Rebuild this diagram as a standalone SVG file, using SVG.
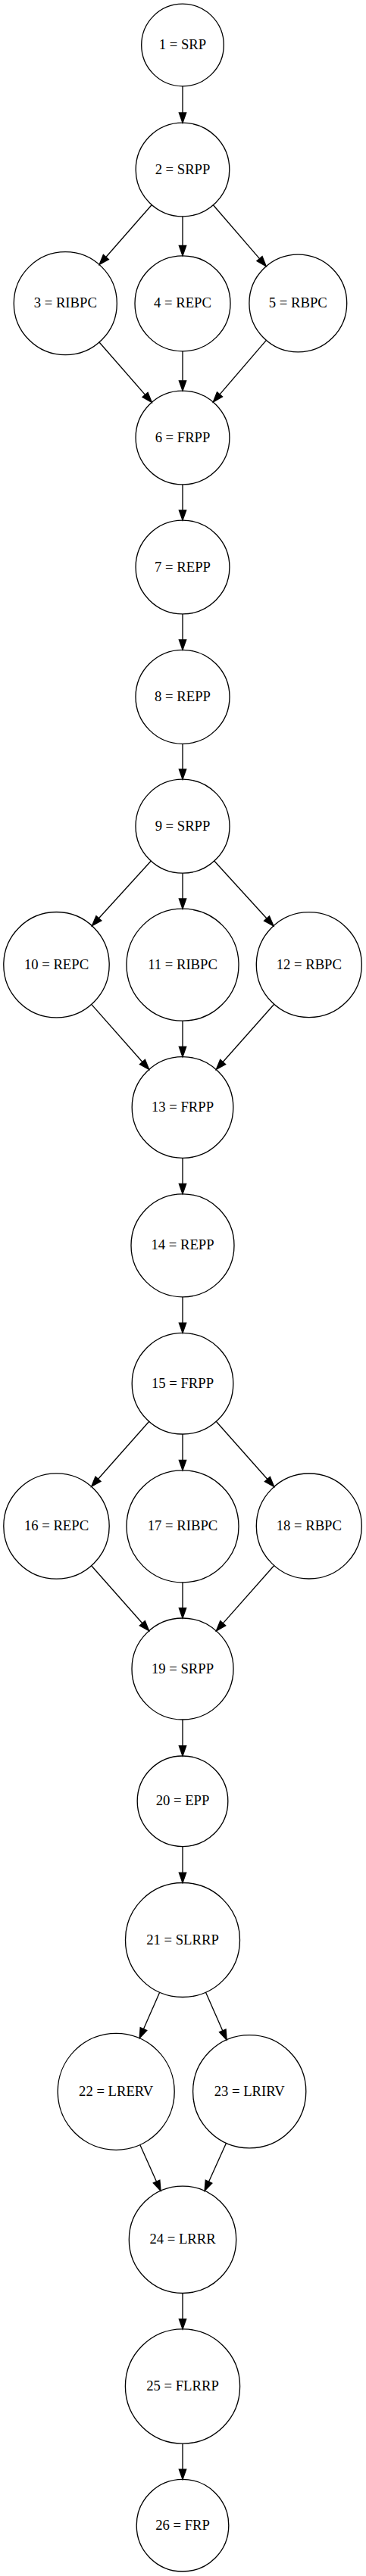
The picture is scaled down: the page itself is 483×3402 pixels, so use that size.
<svg xmlns="http://www.w3.org/2000/svg" width="483" height="3402" viewBox="0 0 483 3402">
<style>
.n circle{fill:none;stroke:#000;stroke-width:1.33}
.n text{font-family:"Liberation Serif","Times New Roman",serif;font-size:18.67px;text-anchor:middle;fill:#000}
#edges line{stroke:#000;stroke-width:1.33}
#edges polygon{fill:#000;stroke:#000;stroke-width:1.33}
</style>
<rect width="483" height="3402" fill="#fff"/>
<g id="edges">
<line x1="241" y1="113.8" x2="241" y2="148.9"/><polygon points="241,162.2 236.33,148.9 245.67,148.9"/>
<line x1="200.29" y1="270.5" x2="139.87" y2="339.51"/><polygon points="131.09,349.54 143.38,342.59 136.36,336.43"/>
<line x1="241" y1="285.8" x2="241" y2="324.5"/><polygon points="241,337.8 236.33,324.5 245.67,324.5"/>
<line x1="281.37" y1="270.79" x2="342.52" y2="341.65"/><polygon points="351.23,351.74 338.98,344.7 346.06,338.6"/>
<line x1="131.01" y1="451.94" x2="191.54" y2="521.32"/><polygon points="200.3,531.36 188.02,524.39 195.06,518.25"/>
<line x1="241" y1="463.8" x2="241" y2="502.8"/><polygon points="241,516.1 236.33,502.8 245.67,502.8"/>
<line x1="351.36" y1="449.37" x2="289.99" y2="520.9"/><polygon points="281.31,531.02 293.53,523.94 286.45,517.86"/>
<line x1="241" y1="639.9" x2="241" y2="673.8"/><polygon points="241,687.1 236.33,673.8 245.67,673.8"/>
<line x1="241" y1="810.9" x2="241" y2="845"/><polygon points="241,858.3 236.33,845 245.67,845"/>
<line x1="241" y1="982.3" x2="241" y2="1015.9"/><polygon points="241,1029.2 236.33,1015.9 245.67,1015.9"/>
<line x1="199.27" y1="1137.06" x2="130.38" y2="1212.78"/><polygon points="121.41,1222.64 133.83,1215.92 126.93,1209.64"/>
<line x1="241" y1="1153.2" x2="241" y2="1186.9"/><polygon points="241,1200.2 236.33,1186.9 245.67,1186.9"/>
<line x1="282.76" y1="1137.02" x2="352" y2="1212.98"/><polygon points="360.98,1222.83 348.55,1216.13 355.45,1209.83"/>
<line x1="120.67" y1="1326.41" x2="187.92" y2="1402.47"/><polygon points="196.75,1412.46 184.42,1405.56 191.42,1399.38"/>
<line x1="241" y1="1348.2" x2="241" y2="1382.4"/><polygon points="241,1395.7 236.33,1382.4 245.67,1382.4"/>
<line x1="361.72" y1="1326.23" x2="294.14" y2="1402.51"/><polygon points="285.3,1412.49 297.64,1405.61 290.64,1399.41"/>
<line x1="241" y1="1529.3" x2="241" y2="1563.5"/><polygon points="241,1576.8 236.33,1563.5 245.67,1563.5"/>
<line x1="241" y1="1712.8" x2="241" y2="1747.1"/><polygon points="241,1760.4 236.33,1747.1 245.67,1747.1"/>
<line x1="196.75" y1="1877.24" x2="129.5" y2="1953.3"/><polygon points="120.67,1963.29 133,1956.39 126,1950.21"/>
<line x1="241" y1="1894" x2="241" y2="1928.5"/><polygon points="241,1941.8 236.33,1928.5 245.67,1928.5"/>
<line x1="285.3" y1="1877.21" x2="352.88" y2="1953.49"/><polygon points="361.72,1963.47 349.38,1956.59 356.38,1950.39"/>
<line x1="120.64" y1="2067.74" x2="187.83" y2="2143.79"/><polygon points="196.65,2153.78 184.33,2146.88 191.33,2140.7"/>
<line x1="241" y1="2089.8" x2="241" y2="2123.7"/><polygon points="241,2137 236.33,2123.7 245.67,2123.7"/>
<line x1="361.74" y1="2067.55" x2="294.23" y2="2143.84"/><polygon points="285.4,2153.82 297.73,2146.94 290.73,2140.74"/>
<line x1="241" y1="2271" x2="241" y2="2305.7"/><polygon points="241,2319 236.33,2305.7 245.67,2305.7"/>
<line x1="241" y1="2438.6" x2="241" y2="2473.2"/><polygon points="241,2486.5 236.33,2473.2 245.67,2473.2"/>
<line x1="210.69" y1="2631.15" x2="189.47" y2="2679.57"/><polygon points="184.12,2691.78 193.75,2681.45 185.19,2677.69"/>
<line x1="271.43" y1="2631.1" x2="293.77" y2="2681.83"/><polygon points="299.14,2694.03 289.5,2683.71 298.04,2679.95"/>
<line x1="184.75" y1="2832.54" x2="206.57" y2="2881.15"/><polygon points="212.03,2893.31 202.31,2883.06 210.83,2879.24"/>
<line x1="298.52" y1="2830.3" x2="275.55" y2="2881.21"/><polygon points="270.07,2893.36 279.81,2883.13 271.29,2879.29"/>
<line x1="241" y1="3028.5" x2="241" y2="3062.6"/><polygon points="241,3075.9 236.33,3062.6 245.67,3062.6"/>
<line x1="241" y1="3227.1" x2="241" y2="3261.1"/><polygon points="241,3274.4 236.33,3261.1 245.67,3261.1"/>
</g>
<g id="n1" class="n"><circle cx="241" cy="59.5" r="54.3"/><text x="241" y="65.1">1 = SRP</text></g>
<g id="n2" class="n"><circle cx="241" cy="224" r="61.8"/><text x="241" y="229.6">2 = SRPP</text></g>
<g id="n3" class="n"><circle cx="86.3" cy="400.7" r="68"/><text x="86.3" y="406.3">3 = RIBPC</text></g>
<g id="n4" class="n"><circle cx="241" cy="400.8" r="63"/><text x="241" y="406.4">4 = REPC</text></g>
<g id="n5" class="n"><circle cx="393.3" cy="400.5" r="64.4"/><text x="393.3" y="406.1">5 = RBPC</text></g>
<g id="n6" class="n"><circle cx="241" cy="578" r="61.9"/><text x="241" y="583.6">6 = FRPP</text></g>
<g id="n7" class="n"><circle cx="241" cy="749" r="61.9"/><text x="241" y="754.6">7 = REPP</text></g>
<g id="n8" class="n"><circle cx="241" cy="920.3" r="62"/><text x="241" y="925.9">8 = REPP</text></g>
<g id="n9" class="n"><circle cx="241" cy="1091.2" r="62"/><text x="241" y="1096.8">9 = SRPP</text></g>
<g id="n10" class="n"><circle cx="74.5" cy="1274.2" r="69.7"/><text x="74.5" y="1279.8">10 = REPC</text></g>
<g id="n11" class="n"><circle cx="241" cy="1274.2" r="74"/><text x="241" y="1279.8">11 = RIBPC</text></g>
<g id="n12" class="n"><circle cx="407.8" cy="1274.2" r="69.5"/><text x="407.8" y="1279.8">12 = RBPC</text></g>
<g id="n13" class="n"><circle cx="241" cy="1462.5" r="66.8"/><text x="241" y="1468.1">13 = FRPP</text></g>
<g id="n14" class="n"><circle cx="241" cy="1644.8" r="68"/><text x="241" y="1650.4">14 = REPP</text></g>
<g id="n15" class="n"><circle cx="241" cy="1827.2" r="66.8"/><text x="241" y="1832.8">15 = FRPP</text></g>
<g id="n16" class="n"><circle cx="74.5" cy="2015.5" r="69.7"/><text x="74.5" y="2021.1">16 = REPC</text></g>
<g id="n17" class="n"><circle cx="241" cy="2015.8" r="74"/><text x="241" y="2021.4">17 = RIBPC</text></g>
<g id="n18" class="n"><circle cx="407.8" cy="2015.5" r="69.5"/><text x="407.8" y="2021.1">18 = RBPC</text></g>
<g id="n19" class="n"><circle cx="241" cy="2204" r="67"/><text x="241" y="2209.6">19 = SRPP</text></g>
<g id="n20" class="n"><circle cx="241" cy="2378.8" r="59.8"/><text x="241" y="2384.4">20 = EPP</text></g>
<g id="n21" class="n"><circle cx="241" cy="2562" r="75.5"/><text x="241" y="2567.6">21 = SLRRP</text></g>
<g id="n22" class="n"><circle cx="153.2" cy="2762.3" r="77"/><text x="153.2" y="2767.9">22 = LRERV</text></g>
<g id="n23" class="n"><circle cx="329.2" cy="2762.3" r="74.6"/><text x="329.2" y="2767.9">23 = LRIRV</text></g>
<g id="n24" class="n"><circle cx="241" cy="2957.8" r="70.7"/><text x="241" y="2963.4">24 = LRRR</text></g>
<g id="n25" class="n"><circle cx="241" cy="3151.5" r="75.6"/><text x="241" y="3157.1">25 = FLRRP</text></g>
<g id="n26" class="n"><circle cx="241" cy="3335.2" r="60.8"/><text x="241" y="3340.8">26 = FRP</text></g>
</svg>
